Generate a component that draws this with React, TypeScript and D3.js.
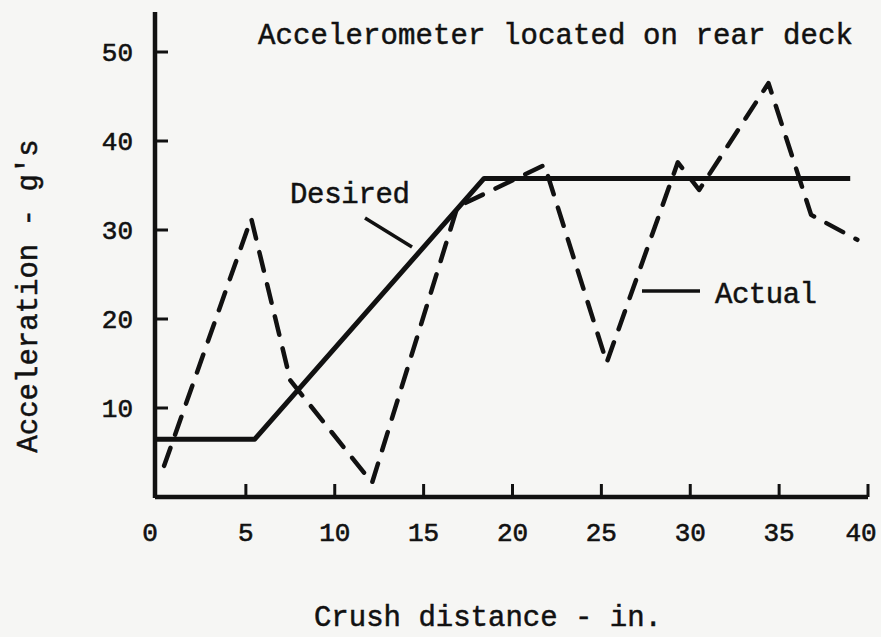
import React from "react";
import * as d3 from "d3";

// crush distance (in.) / acceleration (g's)
const desiredX = [0, 5.5, 18.4, 39];
const desiredY = [6.5, 6.5, 35.8, 35.8];

const actualX = [0.4, 5.3, 7.5, 12.1, 16.9, 21.8, 25.3, 29.3, 30.5, 34.4, 36.8, 39.4];
const actualY = [3.5, 31.3, 13.1, 1.6, 32.6, 37.3, 15.1, 37.6, 34.5, 46.5, 31.7, 28.9];

const xTicks = [0, 5, 10, 15, 20, 25, 30, 35, 40];
const yTicks = [10, 20, 30, 40, 50];

const W = 881;
const H = 637;
const FONT = "'Liberation Mono', 'Courier New', monospace";
const INK = "#111";

const App: React.FC = () => {
  const x = d3.scaleLinear().domain([0, 40]).range([157, 868]);
  const y = d3.scaleLinear().domain([0, 50]).range([497, 52]);

  const line = d3
    .line<[number, number]>()
    .x((d) => x(d[0]))
    .y((d) => y(d[1]));

  const desired = desiredX.map((v, i) => [v, desiredY[i]] as [number, number]);
  const actual = actualX.map((v, i) => [v, actualY[i]] as [number, number]);

  const axisLeft = x(0) - 2;

  // the first and last labels sit a little inward, as in the typed original
  const labelShift = (t: number) => (t === 0 ? -7 : t === 40 ? -7 : 0);

  return (
    <svg
      width={W}
      height={H}
      style={{ display: "block", position: "absolute", left: 0, top: 0, background: "#f6f6f4" }}
    >
      <rect width={W} height={H} fill="#f6f6f4" />

      {/* axes */}
      <line x1={axisLeft} y1={12} x2={axisLeft} y2={y(0) + 1} stroke={INK} strokeWidth={4.5} />
      <line x1={axisLeft} y1={y(0)} x2={x(40)} y2={y(0)} stroke={INK} strokeWidth={4.5} />

      {/* ticks */}
      {xTicks.slice(1).map((t) => (
        <line key={"xt" + t} x1={x(t)} x2={x(t)} y1={y(0)} y2={y(0) - 13} stroke={INK} strokeWidth={3} />
      ))}
      {yTicks.map((t) => (
        <line key={"yt" + t} x1={axisLeft} x2={axisLeft + 13} y1={y(t)} y2={y(t)} stroke={INK} strokeWidth={3} />
      ))}

      {/* tick labels */}
      {xTicks.map((t) => (
        <text
          key={"xl" + t}
          x={x(t) + labelShift(t)}
          y={541}
          textAnchor="middle"
          fontFamily={FONT}
          fontSize={26}
          fill={INK}
          stroke={INK}
          strokeWidth={0.6}
        >
          {t}
        </text>
      ))}
      {yTicks.map((t) => (
        <text
          key={"yl" + t}
          x={133}
          y={y(t)}
          dy="0.36em"
          textAnchor="end"
          fontFamily={FONT}
          fontSize={26}
          fill={INK}
          stroke={INK}
          strokeWidth={0.6}
        >
          {t}
        </text>
      ))}

      {/* series */}
      <path d={line(desired) ?? ""} fill="none" stroke={INK} strokeWidth={5} strokeLinejoin="round" />
      <path
        d={line(actual) ?? ""}
        fill="none"
        stroke={INK}
        strokeWidth={4.5}
        strokeDasharray="19 14"
        strokeLinecap="round"
        strokeLinejoin="round"
      />

      {/* annotations */}
      <text x={258} y={44} fontFamily={FONT} fontSize={29} fill={INK} stroke={INK} strokeWidth={0.5} textLength={595}>
        Accelerometer located on rear deck
      </text>
      <text x={290} y={203} fontFamily={FONT} fontSize={29} fill={INK} stroke={INK} strokeWidth={0.5} textLength={120}>
        Desired
      </text>
      <line x1={365} y1={218} x2={412} y2={247} stroke={INK} strokeWidth={3.5} />
      <line x1={642} y1={291} x2={700} y2={291} stroke={INK} strokeWidth={3.5} />
      <text x={715} y={303} fontFamily={FONT} fontSize={29} fill={INK} stroke={INK} strokeWidth={0.5} textLength={102}>
        Actual
      </text>

      {/* axis titles */}
      <text
        x={488}
        y={626}
        textAnchor="middle"
        fontFamily={FONT}
        fontSize={29}
        fill={INK}
        stroke={INK}
        strokeWidth={0.5}
      >
        Crush distance - in.
      </text>
      <text
        transform="translate(37, 296) rotate(-90)"
        textAnchor="middle"
        fontFamily={FONT}
        fontSize={29}
        fill={INK}
        stroke={INK}
        strokeWidth={0.5}
      >
        Acceleration - g's
      </text>
    </svg>
  );
};

export default App;
